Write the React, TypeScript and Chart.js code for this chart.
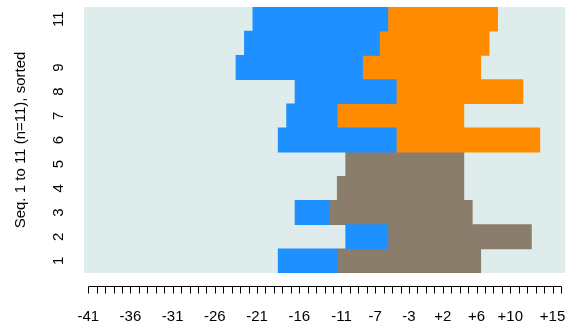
import React, { useEffect, useRef } from 'react';
import { Chart, registerables } from 'chart.js';

Chart.register(...registerables);

// Sequences 1..11 (bottom to top); spans are [start, end] in time-step units (0..57)
const rows: string[] = ['1', '2', '3', '4', '5', '6', '7', '8', '9', '10', '11'];
const blueSpans: ([number, number] | null)[] = [
  [23, 30], [31, 36], [25, 29], null, null, [23, 37], [24, 30], [25, 37], [18, 33], [19, 35], [20, 36],
];
const orangeSpans: ([number, number] | null)[] = [
  null, null, null, null, null, [37, 54], [30, 45], [37, 52], [33, 47], [35, 48], [36, 49],
];
const brownSpans: ([number, number] | null)[] = [
  [30, 47], [36, 53], [29, 46], [30, 45], [31, 45], null, null, null, null, null, null,
];

const timeLabels: string[] = [
  '-41', '-40', '-39', '-38', '-37', '-36', '-35', '-34', '-33', '-32',
  '-31', '-30', '-29', '-28', '-27', '-26', '-25', '-24', '-23', '-22',
  '-21', '-20', '-19', '-18', '-17', '-16', '-15', '-14', '-13', '-12',
  '-11', '-10', '-9', '-8', '-7', '-6', '-5', '-4', '-3', '-2', '-1',
  '+1', '+2', '+3', '+4', '+5', '+6', '+7', '+8', '+9', '+10',
  '+11', '+12', '+13', '+14', '+15', '+16',
];
const shownTimeLabels: string[] = ['-41', '-36', '-31', '-26', '-21', '-16', '-11', '-7', '-3', '+2', '+6', '+10', '+15'];
const shownRowLabels: string[] = ['1', '2', '3', '4', '5', '6', '7', '8', '9', '11'];

const FONT = 'Liberation Sans, Arial, Helvetica, sans-serif';

const customPlugin = {
  id: 'rstyle',
  beforeDraw(chart: any) {
    const { ctx, chartArea } = chart;
    ctx.save();
    ctx.fillStyle = '#DEECEB';
    ctx.fillRect(chartArea.left, chartArea.top, chartArea.right - chartArea.left, chartArea.bottom - chartArea.top);
    ctx.restore();
  },
  afterDraw(chart: any) {
    const { ctx, chartArea } = chart;
    const xs = chart.scales.x;
    const ys = chart.scales.y;
    ctx.save();
    // x axis line and ticks
    const yLine = Math.round(chartArea.bottom + 13) + 0.5;
    const x0 = xs.getPixelForValue(0.5);
    const x1 = xs.getPixelForValue(timeLabels.length - 0.5);
    ctx.strokeStyle = '#000';
    ctx.lineWidth = 1;
    ctx.beginPath();
    ctx.moveTo(Math.round(x0) + 0.5, yLine);
    ctx.lineTo(Math.round(x1) + 0.5, yLine);
    for (let i = 0; i < timeLabels.length; i++) {
      const px = Math.round(xs.getPixelForValue(i + 0.5)) + 0.5;
      ctx.moveTo(px, yLine);
      ctx.lineTo(px, yLine + 7);
    }
    ctx.stroke();
    // y tick labels, rotated
    ctx.fillStyle = '#000';
    ctx.font = `15px ${FONT}`;
    ctx.textAlign = 'center';
    ctx.textBaseline = 'middle';
    rows.forEach((r, i) => {
      if (!shownRowLabels.includes(r)) return;
      const py = ys.getPixelForValue(i);
      ctx.save();
      ctx.translate(59, py);
      ctx.rotate(-Math.PI / 2);
      ctx.fillText(r, 0, 0);
      ctx.restore();
    });
    ctx.restore();
  },
};

export default function App() {
  const canvasRef = useRef<HTMLCanvasElement | null>(null);

  useEffect(() => {
    if (!canvasRef.current) return;
    const common = { grouped: false, barPercentage: 1, categoryPercentage: 1, borderWidth: 0 };
    const chart = new Chart(canvasRef.current, {
      type: 'bar',
      data: {
        labels: rows,
        datasets: [
          { label: 'blue', data: blueSpans as any, backgroundColor: '#1E90FF', ...common },
          { label: 'orange', data: orangeSpans as any, backgroundColor: '#FF8C00', ...common },
          { label: 'brown', data: brownSpans as any, backgroundColor: '#8B7D6B', ...common },
        ],
      },
      options: {
        indexAxis: 'y',
        animation: false,
        responsive: false,
        maintainAspectRatio: false,
        plugins: { legend: { display: false }, tooltip: { enabled: false } },
        layout: { padding: { top: 7, right: 5, left: 0, bottom: 0 } },
        scales: {
          x: {
            type: 'linear',
            min: 0,
            max: timeLabels.length,
            afterBuildTicks: (s: any) => {
              s.ticks = timeLabels.map((_, i) => ({ value: i + 0.5 }));
            },
            afterFit: (s: any) => {
              s.height = 58;
            },
            ticks: {
              autoSkip: false,
              maxRotation: 0,
              minRotation: 0,
              padding: 15,
              color: '#000',
              font: { size: 15, family: FONT },
              callback: (_v: any, i: number) =>
                shownTimeLabels.includes(timeLabels[i]) ? timeLabels[i] : '',
            },
            grid: { display: true, drawOnChartArea: false, drawTicks: true, tickLength: 20, color: 'rgba(0,0,0,0)' },
            border: { display: false },
          },
          y: {
            type: 'category',
            reverse: true,
            offset: true,
            grid: { display: false },
            border: { display: false },
            ticks: { display: false },
            title: {
              display: true,
              text: 'Seq. 1 to 11 (n=11), sorted',
              color: '#000',
              font: { size: 15, family: FONT },
              padding: { top: 12, bottom: 0 },
            },
            afterFit: (s: any) => {
              s.width = 84;
            },
          },
        },
      } as any,
      plugins: [customPlugin],
    });
    return () => chart.destroy();
  }, []);

  return (
    <div style={{ position: 'fixed', left: 0, top: 0, width: 576, height: 331, background: '#fff' }}>
      <canvas ref={canvasRef} width={576} height={331} style={{ display: 'block', width: 576, height: 331 }} />
    </div>
  );
}
